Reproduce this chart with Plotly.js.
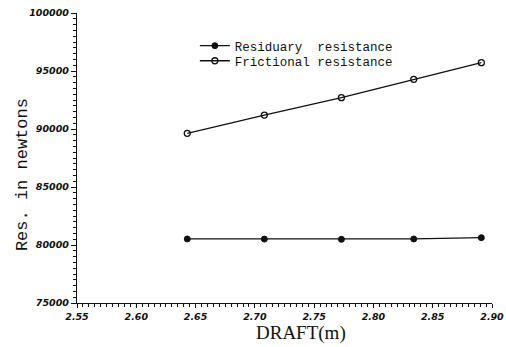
<!DOCTYPE html>
<html>
<head>
<meta charset="utf-8">
<script src="https://cdn.plot.ly/plotly-3.0.1.min.js"></script>
<style>html,body{margin:0;padding:0;background:#fff;}#chart{width:506px;height:347px;}</style>
</head>
<body>
<div id="chart"></div>
<script>
// Data
const draft = [2.643, 2.708, 2.773, 2.834, 2.891];
const residuary = [80520, 80510, 80490, 80520, 80630];
const frictional = [89630, 91200, 92700, 94280, 95720];
const seriesNames = ["Residuary\u00A0\u00A0resistance", "Frictional\u00A0resistance"];
const xTicks = [2.55, 2.60, 2.65, 2.70, 2.75, 2.80, 2.85, 2.90];
const yTicks = [75000, 80000, 85000, 90000, 95000, 100000];

const traces = [
  {
    x: draft, y: residuary, name: seriesNames[0], type: 'scatter', mode: 'lines+markers',
    legend: 'legend',
    line: {color: '#111', width: 1.3},
    marker: {symbol: 'circle', size: 6, color: '#111', line: {color: '#111', width: 1}}
  },
  {
    x: draft, y: frictional, name: seriesNames[1], type: 'scatter', mode: 'lines+markers',
    legend: 'legend2',
    line: {color: '#111', width: 1.3},
    marker: {symbol: 'circle-open', size: 6, color: '#111', line: {color: '#111', width: 1.3}}
  }
];

const tickFont = {family: 'DejaVu Sans', size: 9.5, color: '#111', weight: 'bold', style: 'italic'};
const legendFont = {family: 'Liberation Mono', size: 12.5, color: '#111'};

const layout = {
  width: 506, height: 347,
  margin: {l: 77, r: 14, t: 13, b: 44},
  paper_bgcolor: '#fff', plot_bgcolor: '#fff',
  showlegend: true,
  legend: {
    x: 0.284, y: 0.886, xanchor: 'left', yanchor: 'middle',
    bgcolor: 'rgba(0,0,0,0)', borderwidth: 0, font: legendFont, itemwidth: 30
  },
  legend2: {
    x: 0.284, y: 0.834, xanchor: 'left', yanchor: 'middle',
    bgcolor: 'rgba(0,0,0,0)', borderwidth: 0, font: legendFont, itemwidth: 30
  },
  xaxis: {
    range: [2.55, 2.90],
    tickvals: xTicks, ticktext: xTicks.map(v => v.toFixed(2)),
    tickfont: tickFont,
    showgrid: false, zeroline: false,
    showline: true, linecolor: '#111', linewidth: 1.2,
    ticks: 'outside', ticklen: 4, tickcolor: '#111', tickwidth: 1,
    minor: {dtick: 0.005, ticks: 'outside', ticklen: 2.5, tickcolor: '#111', tickwidth: 1, showgrid: false}
  },
  yaxis: {
    range: [75000, 100000],
    tickvals: yTicks, ticktext: yTicks.map(v => String(v)),
    tickfont: tickFont,
    showgrid: false, zeroline: false,
    showline: true, linecolor: '#111', linewidth: 1.2,
    ticks: 'outside', ticklen: 5, tickcolor: '#111', tickwidth: 1,
    minor: {dtick: 500, ticks: 'outside', ticklen: 2.5, tickcolor: '#111', tickwidth: 1, showgrid: false}
  },
  annotations: [
    {text: 'DRAFT(m)', xref: 'paper', yref: 'paper', x: 0.54, y: -0.103, xanchor: 'center', yanchor: 'middle',
     showarrow: false, font: {family: 'Liberation Serif', size: 19, color: '#111'}},
    {text: 'Res. in newtons', xref: 'paper', yref: 'paper', x: -0.1325, y: 0.441, xanchor: 'center', yanchor: 'middle',
     textangle: -90, showarrow: false, font: {family: 'Liberation Mono', size: 17, color: '#111'}}
  ]
};

Plotly.newPlot('chart', traces, layout, {displayModeBar: false, staticPlot: true});
</script>
</body>
</html>
